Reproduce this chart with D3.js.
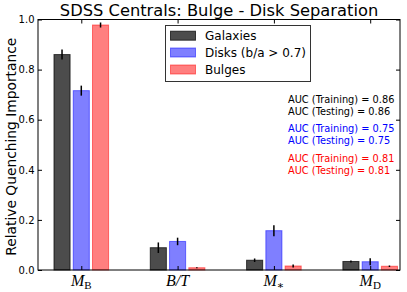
<!DOCTYPE html>
<html>
<head>
<meta charset="utf-8">
<script src="https://cdn.jsdelivr.net/npm/d3@7"></script>
<style>
body { margin: 0; background: #fff; }
svg { display: block; }
</style>
</head>
<body>
<svg id="chart" width="407" height="292"></svg>
<script>
// ---- data ----
const categories = ["M_B", "B/T", "M_*", "M_D"];
const seriesNames = ["Galaxies", "Disks (b/a > 0.7)", "Bulges"];
const galaxiesValues = [0.86, 0.089, 0.039, 0.034];
const galaxiesErrors = [0.02, 0.021, 0.007, 0.004];
const disksValues = [0.716, 0.114, 0.157, 0.033];
const disksErrors = [0.02, 0.015, 0.022, 0.014];
const bulgesValues = [0.978, 0.009, 0.016, 0.015];
const bulgesErrors = [0.01, 0.002, 0.006, 0.003];
const yTicks = [0.0, 0.2, 0.4, 0.6, 0.8, 1.0];
const aucLabels = [
  "AUC (Training) = 0.86", "AUC (Testing) = 0.86",
  "AUC (Training) = 0.75", "AUC (Testing) = 0.75",
  "AUC (Training) = 0.81", "AUC (Testing) = 0.81"
];
const titleText = "SDSS Centrals: Bulge - Disk Separation";
const yLabelText = "Relative Quenching Importance";

// ---- styles ----
const fills = ["#000000", "#0000ff", "#ff0000"];
const fillOps = [0.7, 0.5, 0.5];
const aucColors = ["#000000", "#000000", "#0000ff", "#0000ff", "#ff0000", "#ff0000"];

const svg = d3.select("#chart");
const L = 38, R = 400, T = 19.5, B = 270;
const barW = 0.167, offs = 0.2;
const x = d3.scaleLinear().domain([-0.166, 3.593]).range([L, R]);
const y = d3.scaleLinear().domain([0, 1]).range([B, T]);

const series = [
  { v: galaxiesValues, e: galaxiesErrors },
  { v: disksValues, e: disksErrors },
  { v: bulgesValues, e: bulgesErrors }
];

// bars
series.forEach((s, k) => {
  const g = svg.append("g");
  g.selectAll("rect").data(s.v).enter().append("rect")
    .attr("x", (d, i) => x(i + k * offs))
    .attr("width", x(barW) - x(0))
    .attr("y", d => y(d))
    .attr("height", d => y(0) - y(d))
    .attr("fill", fills[k]).attr("fill-opacity", fillOps[k])
    .attr("stroke", fills[k]).attr("stroke-opacity", fillOps[k])
    .attr("stroke-width", 1);
  g.selectAll("line").data(s.v).enter().append("line")
    .attr("x1", (d, i) => x(i + k * offs + barW / 2))
    .attr("x2", (d, i) => x(i + k * offs + barW / 2))
    .attr("y1", (d, i) => y(d + s.e[i]))
    .attr("y2", (d, i) => y(d - s.e[i]))
    .attr("stroke", "#000").attr("stroke-width", 1.5);
});

// frame
svg.append("rect").attr("x", L).attr("y", T).attr("width", R - L).attr("height", B - T)
  .attr("fill", "none").attr("stroke", "#000").attr("stroke-width", 1);

// y axis ticks (inward, both sides)
const yAxisL = d3.axisLeft(y).tickValues(yTicks).tickFormat(d3.format(".1f"))
  .tickSizeInner(-4).tickSizeOuter(0).tickPadding(3.5);
const gy = svg.append("g").attr("transform", `translate(${L},0)`).call(yAxisL);
gy.select(".domain").remove();
gy.selectAll("text").attr("font-family", "DejaVu Sans").attr("font-size", 10).attr("fill", "#000");
const yAxisR = d3.axisRight(y).tickValues(yTicks).tickFormat("").tickSizeInner(-4).tickSizeOuter(0);
const gyr = svg.append("g").attr("transform", `translate(${R},0)`).call(yAxisR);
gyr.select(".domain").remove();

// x ticks (inward, both sides)
const tickPos = categories.map((c, i) => i + offs + barW / 2);
const xAxisB = d3.axisBottom(x).tickValues(tickPos).tickFormat("").tickSizeInner(-4).tickSizeOuter(0);
const gxb = svg.append("g").attr("transform", `translate(0,${B})`).call(xAxisB);
gxb.select(".domain").remove();
const xAxisT = d3.axisTop(x).tickValues(tickPos).tickFormat("").tickSizeInner(-4).tickSizeOuter(0);
const gxt = svg.append("g").attr("transform", `translate(0,${T})`).call(xAxisT);
gxt.select(".domain").remove();

// x tick labels (math-style)
categories.forEach((c, i) => {
  const t = svg.append("text")
    .attr("x", x(tickPos[i])).attr("y", 286)
    .attr("text-anchor", "middle")
    .attr("font-family", "Liberation Serif, DejaVu Serif, serif")
    .attr("font-size", 16).attr("fill", "#000");
  const parts = c.split("_");
  if (parts.length === 2) {
    t.append("tspan").attr("font-style", "italic").text(parts[0]);
    t.append("tspan").attr("font-size", 11).attr("dy", 3).text(parts[1] === "*" ? "\u2217" : parts[1]);
  } else {
    t.append("tspan").attr("font-style", "italic").text(c);
  }
});

// title
svg.append("text").attr("x", (L + R) / 2).attr("y", 16).attr("text-anchor", "middle")
  .attr("font-family", "DejaVu Sans").attr("font-size", 16.3).attr("fill", "#000").text(titleText);

// y label
svg.append("text").attr("transform", `translate(15.5,${(T + B) / 2 + 2}) rotate(-90)`)
  .attr("text-anchor", "middle").attr("font-family", "DejaVu Sans").attr("font-size", 13.8)
  .attr("fill", "#000").text(yLabelText);

// legend
const lg = svg.append("g");
lg.append("rect").attr("x", 165.5).attr("y", 25.5).attr("width", 145).attr("height", 56)
  .attr("fill", "#fff").attr("stroke", "#333").attr("stroke-width", 1);
const rowY = [35.7, 52.5, 69.5];
seriesNames.forEach((n, k) => {
  lg.append("rect").attr("x", 170.5).attr("y", rowY[k] - 4.5).attr("width", 25).attr("height", 9)
    .attr("fill", fills[k]).attr("fill-opacity", fillOps[k])
    .attr("stroke", fills[k]).attr("stroke-opacity", fillOps[k]);
  lg.append("text").attr("x", 205).attr("y", rowY[k] + 4.3)
    .attr("font-family", "DejaVu Sans").attr("font-size", 12).attr("fill", "#000").text(n);
});

// AUC annotations
const aucY = [102.5, 114.5, 132, 144, 161.5, 173.5];
aucLabels.forEach((s, i) => {
  svg.append("text").attr("x", 288).attr("y", aucY[i])
    .attr("font-family", "DejaVu Sans").attr("font-size", 9.8)
    .attr("fill", aucColors[i]).text(s);
});
</script>
</body>
</html>
